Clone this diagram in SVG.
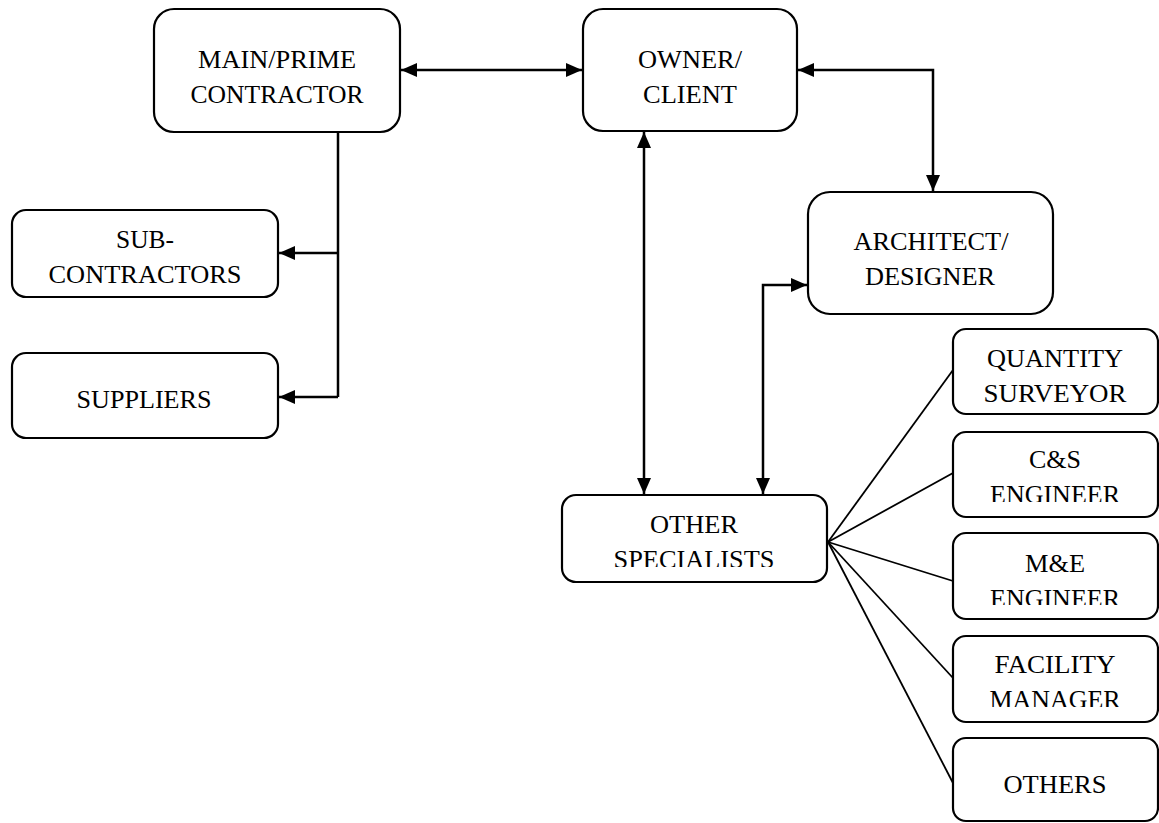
<svg xmlns="http://www.w3.org/2000/svg" width="1159" height="823" viewBox="0 0 1159 823">
<style>
.box{fill:#fff;stroke:#000;stroke-width:2.2}
.t{font-family:"Liberation Serif","Times New Roman",serif;font-size:25px;fill:#000;text-anchor:middle}
.c{fill:none;stroke:#000;stroke-width:2.5}
.f{fill:none;stroke:#000;stroke-width:1.8}
</style>
<defs>
<marker id="ah" viewBox="0 0 16 14" refX="16" refY="7" markerWidth="16" markerHeight="14" markerUnits="userSpaceOnUse" orient="auto-start-reverse">
<path d="M0,0 L16,7 L0,14 Z" fill="#000"/>
</marker>
<clipPath id="c1"><rect x="560" y="490" width="270" height="77"/></clipPath>
<clipPath id="c2"><rect x="950" y="430" width="210" height="72"/></clipPath>
<clipPath id="c3"><rect x="950" y="530" width="210" height="75"/></clipPath>
<clipPath id="c4"><rect x="950" y="630" width="210" height="77"/></clipPath>
</defs>
<g id="connectors">
<line class="c" x1="401" y1="70" x2="582" y2="70" marker-start="url(#ah)" marker-end="url(#ah)"/>
<polyline class="c" points="338,132 338,397"/>
<line class="c" x1="338" y1="253" x2="279" y2="253" marker-end="url(#ah)"/>
<line class="c" x1="338" y1="397" x2="279" y2="397" marker-end="url(#ah)"/>
<polyline class="c" points="798,70 933,70 933,191" marker-start="url(#ah)" marker-end="url(#ah)"/>
<line class="c" x1="644" y1="132" x2="644" y2="494" marker-start="url(#ah)" marker-end="url(#ah)"/>
<polyline class="c" points="807,285 763,285 763,494" marker-start="url(#ah)" marker-end="url(#ah)"/>
<line class="f" x1="828" y1="542" x2="953" y2="370"/>
<line class="f" x1="828" y1="542" x2="953" y2="473"/>
<line class="f" x1="828" y1="542" x2="953" y2="581"/>
<line class="f" x1="828" y1="542" x2="953" y2="678"/>
<line class="f" x1="828" y1="542" x2="953" y2="783"/>
</g>
<g id="main">
<rect class="box" x="154" y="9" width="246" height="123" rx="20"/>
<text class="t" x="277" y="68" textLength="158" lengthAdjust="spacingAndGlyphs">MAIN/PRIME</text>
<text class="t" x="277" y="103" textLength="173" lengthAdjust="spacingAndGlyphs">CONTRACTOR</text>
</g>
<g id="owner">
<rect class="box" x="583" y="9" width="214" height="122" rx="20"/>
<text class="t" x="690" y="68" textLength="104" lengthAdjust="spacingAndGlyphs">OWNER/</text>
<text class="t" x="690" y="103" textLength="94" lengthAdjust="spacingAndGlyphs">CLIENT</text>
</g>
<g id="sub">
<rect class="box" x="12" y="210" width="266" height="87" rx="14"/>
<text class="t" x="145" y="248" textLength="58" lengthAdjust="spacingAndGlyphs">SUB-</text>
<text class="t" x="145" y="283" textLength="193" lengthAdjust="spacingAndGlyphs">CONTRACTORS</text>
</g>
<g id="suppliers">
<rect class="box" x="12" y="353" width="266" height="85" rx="14"/>
<text class="t" x="144" y="408" textLength="135" lengthAdjust="spacingAndGlyphs">SUPPLIERS</text>
</g>
<g id="architect">
<rect class="box" x="808" y="192" width="245" height="122" rx="22"/>
<text class="t" x="931" y="250" textLength="155" lengthAdjust="spacingAndGlyphs">ARCHITECT/</text>
<text class="t" x="930" y="285" textLength="130" lengthAdjust="spacingAndGlyphs">DESIGNER</text>
</g>
<g id="other">
<rect class="box" x="562" y="495" width="265" height="87" rx="14"/>
<g clip-path="url(#c1)">
<text class="t" x="694" y="533" textLength="88" lengthAdjust="spacingAndGlyphs">OTHER</text>
<text class="t" x="694" y="568" textLength="161" lengthAdjust="spacingAndGlyphs">SPECIALISTS</text>
</g>
</g>
<g id="qs">
<rect class="box" x="953" y="329" width="205" height="85" rx="13"/>
<text class="t" x="1055" y="367" textLength="136" lengthAdjust="spacingAndGlyphs">QUANTITY</text>
<text class="t" x="1055" y="402" textLength="143" lengthAdjust="spacingAndGlyphs">SURVEYOR</text>
</g>
<g id="cs">
<rect class="box" x="953" y="432" width="205" height="85" rx="13"/>
<g clip-path="url(#c2)">
<text class="t" x="1055" y="468" textLength="52" lengthAdjust="spacingAndGlyphs">C&amp;S</text>
<text class="t" x="1055" y="503" textLength="130" lengthAdjust="spacingAndGlyphs">ENGINEER</text>
</g>
</g>
<g id="me">
<rect class="box" x="953" y="533" width="205" height="86" rx="13"/>
<g clip-path="url(#c3)">
<text class="t" x="1055" y="572" textLength="60" lengthAdjust="spacingAndGlyphs">M&amp;E</text>
<text class="t" x="1055" y="607" textLength="130" lengthAdjust="spacingAndGlyphs">ENGINEER</text>
</g>
</g>
<g id="fm">
<rect class="box" x="953" y="636" width="205" height="86" rx="13"/>
<g clip-path="url(#c4)">
<text class="t" x="1055" y="673" textLength="121" lengthAdjust="spacingAndGlyphs">FACILITY</text>
<text class="t" x="1055" y="708" textLength="131" lengthAdjust="spacingAndGlyphs">MANAGER</text>
</g>
</g>
<g id="others">
<rect class="box" x="953" y="738" width="205" height="83" rx="13"/>
<text class="t" x="1055" y="793" textLength="103" lengthAdjust="spacingAndGlyphs">OTHERS</text>
</g>
</svg>
